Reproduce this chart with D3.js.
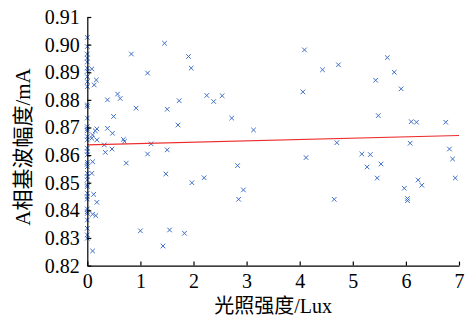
<!DOCTYPE html>
<html>
<head>
<meta charset="utf-8">
<script src="https://cdn.jsdelivr.net/npm/d3@7"></script>
<style>
  body { margin: 0; background: #fff; }
  text { font-family: "Liberation Serif", "Noto Sans CJK SC", serif; }
</style>
</head>
<body>
<div id="chart"></div>
<script>
// illuminance (Lux) and A-phase fundamental amplitude (mA)
const luxValues = [
  0, 0, 0, 0, 0, 0, 0, 0, 0, 0, 0, 0, 0,
  0, 0, 0, 0, 0, 0, 0, 0, 0, 0, 0, 0, 0,
  0, 0, 0, 0, 0, 0, 0, 0, 0, 0, 0, 0, 0,
  0.085, 0.17, 0.13, 0.38, 0.57, 0.62, 0.495, 0.18, 0.15, 0.38, 0.475, 0.10, 0.085,
  0.18, 0.32, 0.465, 0.34, 0.10, 0.085, 0.12, 0.18, 0.10, 0.16, 0.10, 0.68, 0.70,
  0.734, 0.92, 0.83, 1.135, 1.455, 1.906, 1.957, 2.25, 1.73, 1.505, 1.707, 1.2, 1.135,
  1.505, 1.48, 1.97, 2.20, 1.0, 1.55, 1.83, 1.425,
  4.09, 4.73, 4.43, 4.06, 2.54, 2.38, 2.72, 3.13, 4.70, 4.12, 2.83, 2.94, 2.85, 4.65,
  5.65, 5.78, 5.43, 5.91, 5.48, 6.10, 6.20, 6.75, 6.08, 6.82, 6.88, 5.17, 5.33,
  5.53, 5.27, 5.46, 6.23, 6.30, 6.93, 5.97, 6.03, 6.03
];
const ampValues = [
  0.9026, 0.8993, 0.8966, 0.8951, 0.8937, 0.8915, 0.8903, 0.8884, 0.8866, 0.8848, 0.8782, 0.8776, 0.8734,
  0.8703, 0.8695, 0.8688, 0.8667, 0.8655, 0.8625, 0.8613, 0.8601, 0.8574, 0.8567, 0.8558, 0.8534, 0.8522,
  0.8510, 0.8492, 0.8486, 0.8462, 0.8450, 0.8441, 0.8405, 0.8395, 0.8389, 0.8365, 0.8335, 0.8311, 0.8299,
  0.8912, 0.8872, 0.8854, 0.8800, 0.8821, 0.8805, 0.8740, 0.8695, 0.8688, 0.8697, 0.8679, 0.8673, 0.8661,
  0.8655, 0.8637, 0.8622, 0.8610, 0.8576, 0.8534, 0.8458, 0.8429, 0.8386, 0.8381, 0.8253, 0.8657, 0.8650,
  0.8571, 0.8770, 0.8966, 0.8897, 0.9005, 0.8957, 0.8915, 0.8816, 0.8797, 0.8766, 0.8709, 0.8641, 0.8604,
  0.8619, 0.8532, 0.8500, 0.8518, 0.8326, 0.8329, 0.8317, 0.8271,
  0.8981, 0.8927, 0.8909, 0.8829, 0.8815, 0.8794, 0.8734, 0.8691, 0.8645, 0.8591, 0.8562, 0.8474, 0.8440, 0.8440,
  0.8953, 0.8900, 0.8871, 0.8840, 0.8743, 0.8721, 0.8719, 0.8719, 0.8643, 0.8622, 0.8586, 0.8604, 0.8602,
  0.8568, 0.8557, 0.8517, 0.8510, 0.8491, 0.8517, 0.8480, 0.8443, 0.8435
];
// fitted line end points
const fitLux = [0, 7];
const fitAmp = [0.8637, 0.8671];

const xTicks = [0, 1, 2, 3, 4, 5, 6, 7];
const yTicks = [0.82, 0.83, 0.84, 0.85, 0.86, 0.87, 0.88, 0.89, 0.90, 0.91];
const xTitle = "光照强度/Lux";
const yTitle = "A相基波幅度/mA";

const margin = { top: 17, right: 10, bottom: 56.4, left: 87.3 };
const width = 469 - margin.left - margin.right;
const height = 322 - margin.top - margin.bottom;

const svg = d3.select("#chart")
  .append("svg")
  .attr("width", 469)
  .attr("height", 322);

const g = svg.append("g")
  .attr("transform", "translate(" + margin.left + "," + margin.top + ")");

const x = d3.scaleLinear().domain([0, 7]).range([0, width]);
const y = d3.scaleLinear().domain([0.82, 0.91]).range([height, 0]);

// points
const pts = luxValues.map((v, i) => ({ lux: v, amp: ampValues[i] }));
const s = 2.3;
g.selectAll(".pt")
  .data(pts)
  .enter()
  .append("path")
  .attr("class", "pt")
  .attr("transform", d => "translate(" + x(d.lux) + "," + y(d.amp) + ")")
  .attr("d", "M" + -s + "," + -s + "L" + s + "," + s + "M" + -s + "," + s + "L" + s + "," + -s)
  .attr("stroke", "#3f6fc6")
  .attr("stroke-width", 1)
  .attr("fill", "none");

// fitted line
g.append("line")
  .attr("x1", x(fitLux[0]))
  .attr("y1", y(fitAmp[0]))
  .attr("x2", x(fitLux[1]))
  .attr("y2", y(fitAmp[1]))
  .attr("stroke", "#ec2b2b")
  .attr("stroke-width", 1.2);

// axes, ticks pointing inward
const xAxis = g.append("g")
  .attr("transform", "translate(0," + height + ")")
  .call(d3.axisBottom(x).tickValues(xTicks).tickFormat(d3.format("d")).tickSize(-4).tickSizeOuter(0).tickPadding(8.5));

const yAxis = g.append("g")
  .call(d3.axisLeft(y).tickValues(yTicks).tickFormat(d3.format(".2f")).tickSize(-4).tickSizeOuter(0).tickPadding(7.5));

[xAxis, yAxis].forEach(a => {
  a.selectAll("path, line").attr("stroke", "#000").attr("stroke-width", 1.2);
  a.selectAll("text")
    .style("font-family", "'Liberation Serif', serif")
    .style("font-size", "20px")
    .attr("fill", "#000");
});

svg.append("text")
  .attr("x", margin.left + width / 2)
  .attr("y", 313)
  .attr("text-anchor", "middle")
  .style("font-size", "20px")
  .text(xTitle);

svg.append("text")
  .attr("transform", "translate(30,147)rotate(-90)")
  .attr("text-anchor", "middle")
  .style("font-size", "21px")
  .text(yTitle);
</script>
</body>
</html>
